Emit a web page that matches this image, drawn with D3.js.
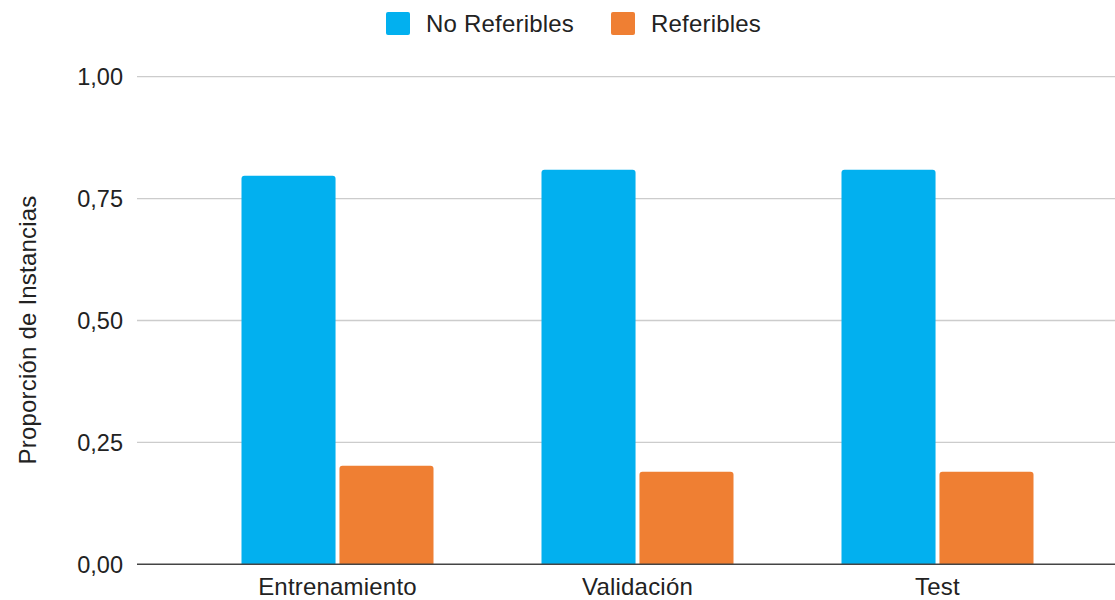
<!DOCTYPE html>
<html>
<head>
<meta charset="utf-8">
<script src="https://cdn.jsdelivr.net/npm/d3@7"></script>
<style>
  html, body { margin: 0; padding: 0; background: #fff; }
  svg text { font-family: "Liberation Sans", Arial, sans-serif; fill: #222; }
</style>
</head>
<body>
<svg id="chart" width="1115" height="600"></svg>
<script>
// Proportion of instances per split, by class
const categories = ["Entrenamiento", "Validación", "Test"];
const seriesNames = ["No Referibles", "Referibles"];
const noReferibles = [0.797, 0.809, 0.809];
const referibles = [0.202, 0.190, 0.190];
const yTicks = [0, 0.25, 0.5, 0.75, 1.0];
const colors = ["#02b0ef", "#ef7f33"];

const svg = d3.select("#chart");
const plotLeft = 137, plotRight = 1115;
const y = d3.scaleLinear().domain([0, 1]).range([564.3, 76.7]);
const x0 = d3.scaleBand().domain(categories).range([187.5, 1087.5]).paddingInner(0).paddingOuter(0);
const x1 = d3.scaleBand().domain(seriesNames).range([0, 192]).paddingInner(0.04);
const fmt = v => d3.format(".2f")(v).replace(".", ",");

// Gridlines
svg.append("g")
  .selectAll("line")
  .data(yTicks.filter(t => t > 0))
  .join("line")
  .attr("x1", plotLeft).attr("x2", plotRight)
  .attr("y1", d => y(d)).attr("y2", d => y(d))
  .attr("stroke", "#cccccc").attr("stroke-width", 1.3);

// Y tick labels
svg.append("g")
  .selectAll("text")
  .data(yTicks)
  .join("text")
  .attr("x", 123).attr("y", d => y(d))
  .attr("dy", "0.35em")
  .attr("text-anchor", "end")
  .attr("font-size", 23.5)
  .text(fmt);

// Y axis title
svg.append("text")
  .attr("transform", "translate(36,330) rotate(-90)")
  .attr("text-anchor", "middle")
  .attr("font-size", 24)
  .attr("letter-spacing", 0.2)
  .text("Proporción de Instancias");

// Bars
const rows = categories.map((c, i) => ({ cat: c, vals: [noReferibles[i], referibles[i]] }));
const groups = svg.append("g")
  .selectAll("g")
  .data(rows)
  .join("g")
  .attr("transform", d => `translate(${x0(d.cat) + (x0.bandwidth() - 192) / 2},0)`);

const r = 3;
groups.selectAll("path")
  .data(d => d.vals.map((v, i) => ({ key: seriesNames[i], v, i })))
  .join("path")
  .attr("fill", d => colors[d.i])
  .attr("d", d => {
    const xa = x1(d.key), w = x1.bandwidth();
    const yt = y(d.v), yb = y(0);
    return `M${xa},${yb} V${yt + r} Q${xa},${yt} ${xa + r},${yt} H${xa + w - r} Q${xa + w},${yt} ${xa + w},${yt + r} V${yb} Z`;
  });

// Baseline
svg.append("line")
  .attr("x1", plotLeft).attr("x2", plotRight)
  .attr("y1", y(0)).attr("y2", y(0))
  .attr("stroke", "#444").attr("stroke-width", 1.6);

// Category labels
svg.append("g")
  .selectAll("text")
  .data(categories)
  .join("text")
  .attr("x", d => x0(d) + x0.bandwidth() / 2)
  .attr("y", 595)
  .attr("text-anchor", "middle")
  .attr("font-size", 24)
  .attr("letter-spacing", 0.2)
  .text(d => d);

// Legend
const legendItems = [
  { name: seriesNames[0], color: colors[0], x: 386 },
  { name: seriesNames[1], color: colors[1], x: 611 }
];
const lg = svg.append("g").selectAll("g").data(legendItems).join("g")
  .attr("transform", d => `translate(${d.x},12)`);
lg.append("rect")
  .attr("width", 24).attr("height", 23).attr("rx", 2)
  .attr("fill", d => d.color);
lg.append("text")
  .attr("x", 40).attr("y", 12).attr("dy", "0.35em")
  .attr("font-size", 24)
  .attr("letter-spacing", 0.2)
  .text(d => d.name);
</script>
</body>
</html>
